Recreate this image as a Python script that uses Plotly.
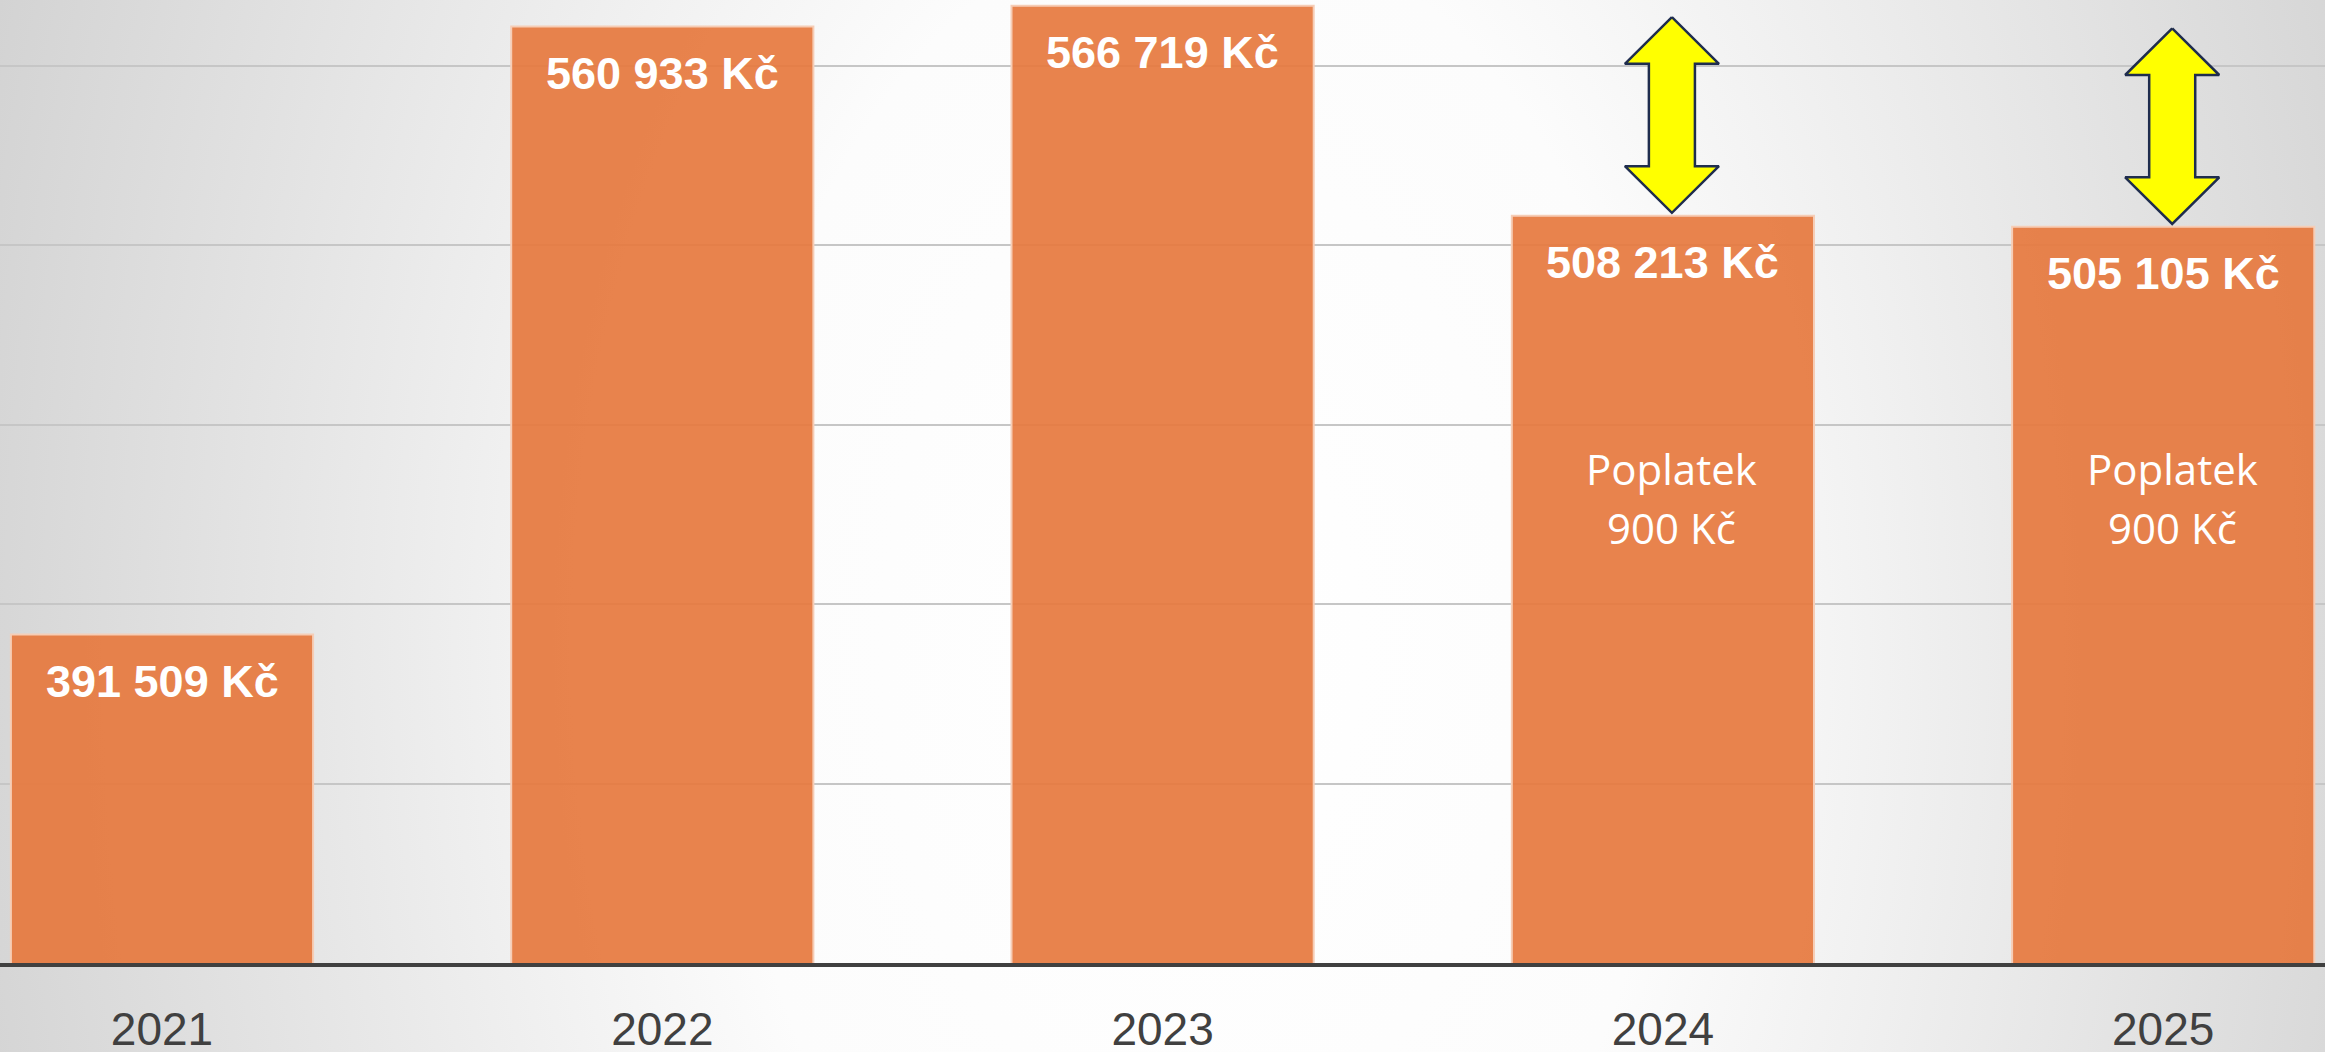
import base64
import plotly.graph_objects as go

# data
years = ["2021", "2022", "2023", "2024", "2025"]
amounts = [391509, 560933, 566719, 508213, 505105]
fee_years = ["2024", "2025"]
fee_lines = ["Poplatek", "900 Kč"]

x_pos = list(range(len(years)))


def kc(v):
    return f"{v:,}".replace(",", " ") + " Kč"


# soft radial background like the slide
svg = """<svg xmlns='http://www.w3.org/2000/svg' width='2325' height='1052' preserveAspectRatio='none'>
<defs><radialGradient id='g' gradientUnits='userSpaceOnUse' cx='0' cy='0' r='1'
 gradientTransform='translate(1200,650) scale(1350,2100)'>
<stop offset='0' stop-color='#ffffff'/><stop offset='0.35' stop-color='#fcfcfc'/>
<stop offset='1' stop-color='#cfcfcf'/></radialGradient></defs>
<rect width='2325' height='1052' fill='url(#g)'/></svg>"""
bg_src = "data:image/svg+xml;base64," + base64.b64encode(svg.encode()).decode()

fig = go.Figure()

fig.add_trace(go.Bar(
    x=x_pos, y=amounts,
    marker=dict(color="rgba(230,120,62,0.92)", line=dict(color="#F6CDB6", width=2)),
    width=0.604, hoverinfo="skip",
))

# value labels inside the top of each bar
for i, v in enumerate(amounts):
    fig.add_annotation(x=i, y=v, text=kc(v), showarrow=False, yanchor="middle", yshift=-47,
                       font=dict(family="Liberation Sans", size=45, color="white", weight="bold"))

# yellow double arrows above the bars with a fee
off = 0.018
hw, sw = 0.094, 0.046
arrow_len, head = 54500, 13000
for yr in fee_years:
    i = years.index(yr)
    c = i + off
    b = amounts[i] + 800
    top = b + arrow_len
    xs = [c, c + hw, c + sw, c + sw, c + hw, c, c - hw, c - sw, c - sw, c - hw, c]
    ys = [top, top - head, top - head, b + head, b + head, b, b + head, b + head, top - head, top - head, top]
    fig.add_trace(go.Scatter(x=xs, y=ys, mode="lines", fill="toself", fillcolor="#FFFF00",
                             line=dict(color="#1F2D4E", width=2.5), hoverinfo="skip"))
    for line, yp in zip(fee_lines, [0.513, 0.452]):
        fig.add_annotation(x=c, y=yp, yref="paper", text=line, showarrow=False, yanchor="middle",
                           font=dict(family="Open Sans", size=42, color="white"))

fig.update_layout(
    width=2325, height=1052,
    margin=dict(l=0, r=0, t=0, b=89),
    showlegend=False,
    paper_bgcolor="#e8e8e8",
    plot_bgcolor="rgba(0,0,0,0)",
    images=[dict(source=bg_src, xref="paper", yref="paper", x=0, y=1, sizex=1, sizey=1052 / 963,
                 sizing="stretch", xanchor="left", yanchor="top", layer="below")],
    xaxis=dict(range=[-0.3238, 4.3234], tickvals=x_pos, ticktext=years, showgrid=False, zeroline=False,
               showline=True, linecolor="#404040", linewidth=4, ticks="",
               ticklabelstandoff=23, automargin=False,
               tickfont=dict(family="Liberation Sans", size=46, color="#404040")),
    yaxis=dict(range=[300000, 568300], dtick=50000, tick0=300000, showticklabels=False,
               automargin=False,
               showgrid=True, gridcolor="#c6c6c6", gridwidth=2, zeroline=False, showline=False),
)

fig.write_html("out.html", config={"displayModeBar": False},
               post_script="document.body.style.margin='0';document.body.style.overflow='hidden';")
